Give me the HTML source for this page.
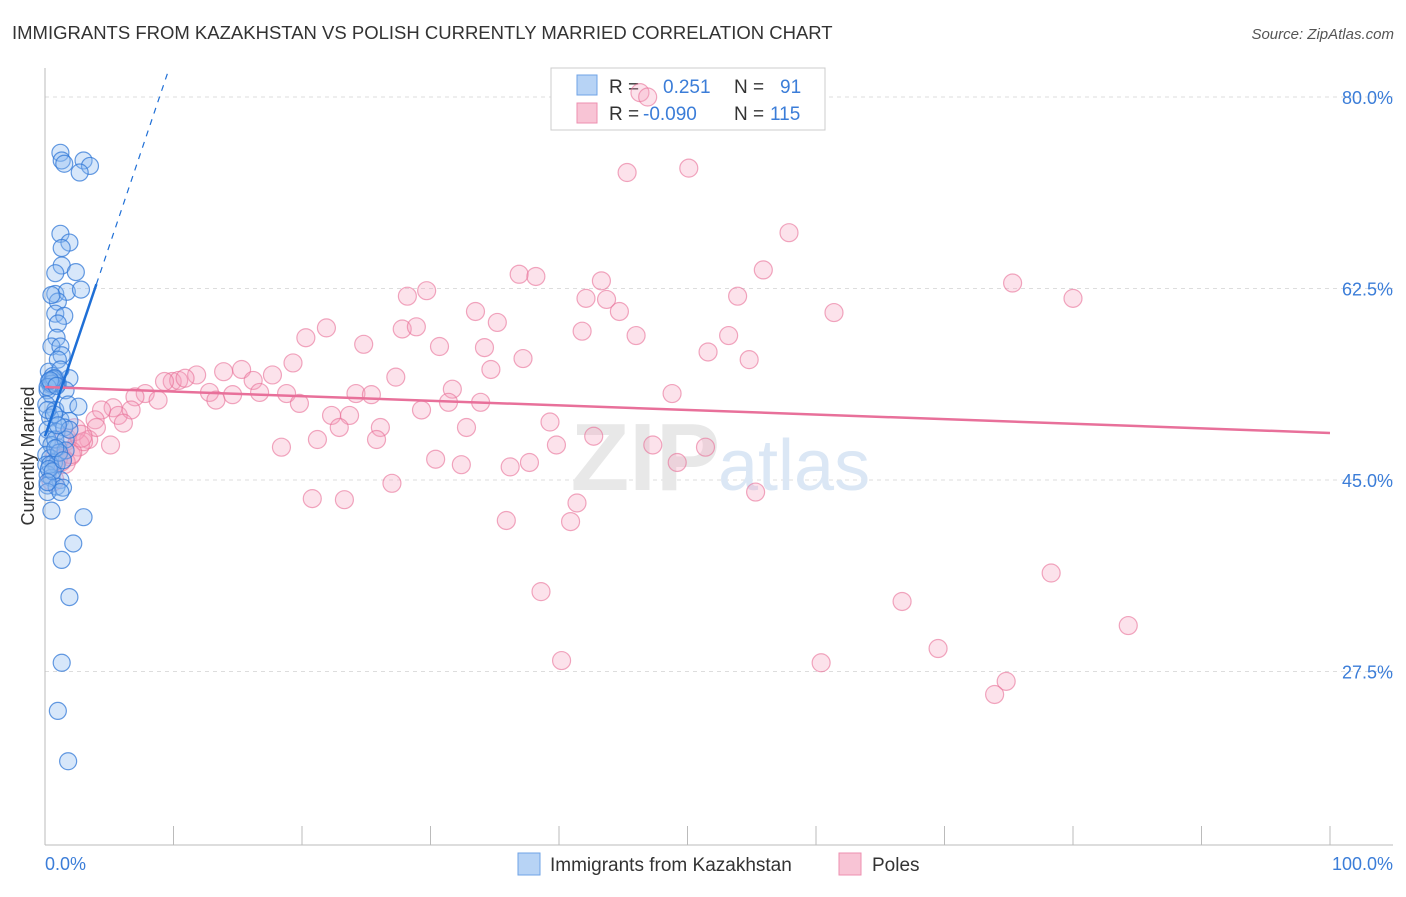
<!DOCTYPE html>
<html><head><meta charset="utf-8"><style>
body{margin:0;background:#fff;font-family:"Liberation Sans",sans-serif;}
svg text{font-family:"Liberation Sans",sans-serif;}
</style></head><body>
<svg width="1406" height="892" viewBox="0 0 1406 892">
<text x="12" y="39" font-size="18.5" fill="#333">IMMIGRANTS FROM KAZAKHSTAN VS POLISH CURRENTLY MARRIED CORRELATION CHART</text>
<text x="1394" y="39" font-size="15" fill="#555" text-anchor="end" font-style="italic">Source: ZipAtlas.com</text>
<g id="grid"></g>
<text x="720" y="490" font-size="96" fill="#e8e8e8" text-anchor="end" font-family="Liberation Serif" font-weight="bold">ZIP</text>
<text x="718" y="490" font-size="72" fill="#dbe7f5">atlas</text>
<line x1="45" y1="68" x2="45" y2="845" stroke="#bbb"/>
<line x1="45" y1="845" x2="1393" y2="845" stroke="#bbb"/>
<g>
<rect x="551" y="68" width="274" height="62" fill="#fff" stroke="#ccc"/>
<rect x="577" y="75" width="20" height="20" fill="#b7d3f5" stroke="#6fa3e6"/>
<rect x="577" y="103" width="20" height="20" fill="#f8c4d5" stroke="#ee8fb0"/>
<text x="609" y="93" font-size="19" fill="#333">R =</text>
<text x="663" y="93" font-size="19" fill="#3b7dd8">0.251</text>
<text x="734" y="93" font-size="19" fill="#333">N =</text>
<text x="780" y="93" font-size="19" fill="#3b7dd8">91</text>
<text x="609" y="120" font-size="19" fill="#333">R =</text>
<text x="643" y="120" font-size="19" fill="#3b7dd8">-0.090</text>
<text x="734" y="120" font-size="19" fill="#333">N =</text>
<text x="770" y="120" font-size="19" fill="#3b7dd8">115</text>
</g>
<g id="pts"></g>
<g id="lines"></g>
<text x="34" y="456" font-size="18" fill="#333" text-anchor="middle" transform="rotate(-90 34 456)">Currently Married</text>
<text x="45" y="870" font-size="18" fill="#3b7dd8">0.0%</text>
<text x="1393" y="870" font-size="18" fill="#3b7dd8" text-anchor="end">100.0%</text>
<g>
<rect x="518" y="853" width="22" height="22" fill="#b7d3f5" stroke="#6fa3e6"/>
<text x="550" y="871" font-size="19" fill="#333">Immigrants from Kazakhstan</text>
<rect x="839" y="853" width="22" height="22" fill="#f8c4d5" stroke="#ee8fb0"/>
<text x="872" y="871" font-size="19" fill="#333">Poles</text>
</g>
</svg>
<script>
const yTicks=[80,62.5,45,27.5];
const yTickLabels=["80.0%","62.5%","45.0%","27.5%"];
const xTicks=[0,10,20,30,40,50,60,70,80,90,100];
const blueX=[1.2,1.3,1.5,3.0,3.5,2.7,1.2,1.9,1.3,1.3,0.8,2.4,0.8,1.7,2.8,1.0,0.5,0.8,1.5,1.0,0.9,0.5,1.2,1.3,1.0,0.3,0.8,1.9,0.4,1.0,0.2,0.5,1.6,0.1,0.8,1.8,2.6,0.4,1.2,1.9,0.2,0.9,1.5,0.2,0.5,1.0,0.1,0.4,0.7,0.1,0.9,0.2,0.5,1.2,0.2,0.9,1.4,0.2,1.2,3.0,2.2,1.3,1.9,1.3,1.0,1.8,0.8,1.6,0.2,0.6,0.9,1.2,1.6,1.9,0.4,0.3,0.6,0.5,0.7,0.2,0.4,0.9,1.1,0.3,0.6,0.8,1.4,0.2,0.5,0.7,1.0];
const blueY=[74.9,74.2,73.9,74.2,73.7,73.1,67.5,66.7,66.2,64.6,63.9,64.0,62.0,62.2,62.4,61.3,61.9,60.2,60.0,59.3,58.0,57.2,57.2,56.4,56.0,54.9,54.3,54.3,53.7,53.8,53.2,52.8,53.2,51.9,51.4,51.9,51.7,50.7,50.5,50.4,49.6,49.4,49.8,48.7,48.2,48.0,47.3,47.0,46.6,46.4,46.4,45.5,45.2,45.0,44.5,44.4,44.3,43.9,43.9,41.6,39.2,37.7,34.3,28.3,23.9,19.3,48.7,48.7,51.4,54.5,53.9,55.1,47.7,49.6,46.4,54.0,54.2,53.8,54.3,53.5,54.1,53.6,47.5,46.0,45.8,47.9,46.8,44.8,42.2,51.0,50.0];
const pinkX=[46.3,46.9,45.3,50.1,57.9,75.3,80.0,55.9,53.9,61.4,36.9,38.2,43.3,42.1,43.7,44.7,28.2,29.7,33.5,35.2,41.8,46.0,53.2,51.6,54.8,21.9,20.3,24.8,27.8,28.9,30.7,34.2,37.2,34.7,48.8,19.3,15.3,11.8,13.9,16.2,17.7,9.9,10.4,9.3,7.8,8.8,10.9,12.8,13.3,14.6,16.7,18.8,19.8,24.2,25.4,27.3,31.7,33.9,31.4,29.3,22.3,23.7,26.1,22.9,25.8,21.2,18.4,32.8,39.3,39.8,42.7,47.3,51.4,49.2,30.4,32.4,36.2,37.7,27.0,20.8,23.3,41.4,40.9,35.9,55.3,38.6,66.7,78.3,84.3,40.2,60.4,69.5,74.8,73.9,7.0,5.3,4.4,3.9,3.4,2.6,1.6,1.9,0.9,5.7,6.7,2.3,6.1,1.5,5.1,4.0,3.0,2.0,1.2,0.6,2.8];
const pinkY=[80.4,80.0,73.1,73.5,67.6,63.0,61.6,64.2,61.8,60.3,63.8,63.6,63.2,61.6,61.5,60.4,61.8,62.3,60.4,59.4,58.6,58.2,58.2,56.7,56.0,58.9,58.0,57.4,58.8,59.0,57.2,57.1,56.1,55.1,52.9,55.7,55.1,54.6,54.9,54.1,54.6,54.0,54.1,54.0,52.9,52.3,54.3,53.0,52.3,52.8,53.0,52.9,52.0,52.9,52.8,54.4,53.3,52.1,52.1,51.4,50.9,50.9,49.8,49.8,48.7,48.7,48.0,49.8,50.3,48.2,49.0,48.2,48.0,46.6,46.9,46.4,46.2,46.6,44.7,43.3,43.2,42.9,41.2,41.3,43.9,34.8,33.9,36.5,31.7,28.5,28.3,29.6,26.6,25.4,52.6,51.6,51.4,50.5,48.7,48.2,48.7,47.3,47.0,50.9,51.4,49.6,50.2,46.6,48.2,49.8,48.5,47.5,46.8,45.0,49.0];
const blueTrend=[[0,49.0],[4.0,62.9]];
const blueDash=[[4.0,62.9],[9.6,82.4]];
const pinkTrend=[[0,53.5],[100,49.3]];
const X0=45,X1=1330,Y80=97,PXPER=10.943;
const sx=v=>X0+(X1-X0)*v/100;
const sy=v=>Y80+(80-v)*PXPER;
const NS="http://www.w3.org/2000/svg";
const g=document.getElementById('grid');
yTicks.forEach((t,i)=>{
 const l=document.createElementNS(NS,'line');
 l.setAttribute('x1',45);l.setAttribute('x2',1393);l.setAttribute('y1',sy(t));l.setAttribute('y2',sy(t));
 l.setAttribute('stroke','#ddd');l.setAttribute('stroke-dasharray','4,4');
 
 
 g.appendChild(l);
 const tx=document.createElementNS(NS,'text');
 tx.setAttribute('x',1393);tx.setAttribute('y',sy(t)+7);tx.setAttribute('text-anchor','end');
 tx.setAttribute('font-size','18');tx.setAttribute('fill','#3b7dd8');tx.textContent=yTickLabels[i];
 
 
 g.appendChild(tx);
});
xTicks.forEach(t=>{
 const l=document.createElementNS(NS,'line');
 l.setAttribute('x1',sx(t));l.setAttribute('x2',sx(t));l.setAttribute('y1',826);l.setAttribute('y2',845);
 l.setAttribute('stroke','#bbb');
 
 
 g.appendChild(l);
});
const p=document.getElementById('pts');
pinkX.forEach((x,i)=>{
 const c=document.createElementNS(NS,'circle');
 c.setAttribute('cx',sx(x));c.setAttribute('cy',sy(pinkY[i]));c.setAttribute('r',x<3?11:9);
 c.setAttribute('fill','rgba(244,160,190,0.3)');c.setAttribute('stroke','rgba(232,110,150,0.6)');c.setAttribute('stroke-width','1.2');
 
 
 p.appendChild(c);
});
blueX.forEach((x,i)=>{
 const c=document.createElementNS(NS,'circle');
 c.setAttribute('cx',sx(x));c.setAttribute('cy',sy(blueY[i]));c.setAttribute('r',8.5);
 c.setAttribute('fill','rgba(140,185,240,0.35)');c.setAttribute('stroke','rgba(50,120,215,0.75)');c.setAttribute('stroke-width','1.2');
 
 
 p.appendChild(c);
});
const L=document.getElementById('lines');
function line(pts,col,w,dash,name){
 const l=document.createElementNS(NS,'line');
 l.setAttribute('x1',sx(pts[0][0]));l.setAttribute('y1',sy(pts[0][1]));
 l.setAttribute('x2',sx(pts[1][0]));l.setAttribute('y2',sy(pts[1][1]));
 l.setAttribute('stroke',col);l.setAttribute('stroke-width',w);
 if(dash)l.setAttribute('stroke-dasharray',dash);
 
 
 L.appendChild(l);
}
line(pinkTrend,'#e8709a',2.5,null,'poles-trendline');
line(blueTrend,'#1f6fd6',2.5,null,'kazakhstan-trendline');
line(blueDash,'#1f6fd6',1.2,'6,6','kazakhstan-trendline-extension');
</script>
</body></html>
